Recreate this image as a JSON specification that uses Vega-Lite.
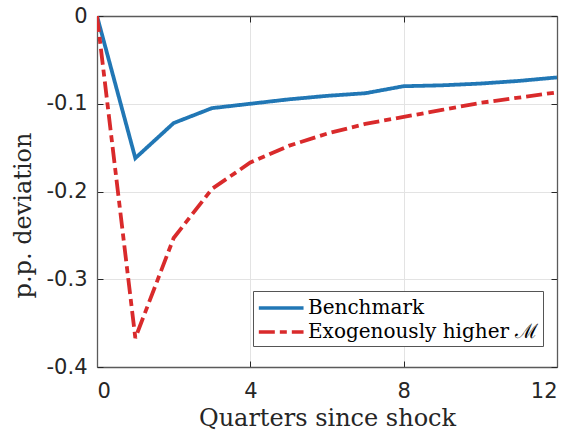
{
  "$schema": "https://vega.github.io/schema/vega-lite/v6.json",
  "width": 460,
  "height": 351,
  "autosize": {"type": "none"},
  "padding": {"left": 97, "top": 16, "right": 17, "bottom": 69},
  "background": "white",
  "config": {
    "view": {"stroke": null},
    "axis": {
      "labelFont": "DejaVu Sans",
      "labelFontSize": 21,
      "labelColor": "#262626",
      "titleFont": "DejaVu Serif",
      "titleFontWeight": "normal",
      "titleFontSize": 24,
      "titleColor": "#262626",
      "domainColor": "#5a5a5a",
      "domainWidth": 1.3,
      "tickColor": "#262626",
      "tickSize": -6,
      "tickWidth": 1,
      "gridColor": "#e3e3e3",
      "gridWidth": 1
    },
    "legend": {
      "orient": "none",
      "legendX": 156,
      "legendY": 275,
      "padding": 4,
      "strokeColor": "#555555",
      "fillColor": "white",
      "symbolType": "M-1,0H3",
      "symbolSize": 500,
      "symbolStrokeWidth": 3.5,
      "labelFont": "DejaVu Serif",
      "labelFontSize": 20,
      "labelColor": "black",
      "labelOffset": 25,
      "rowPadding": 1,
      "labelLimit": 400
    }
  },
  "data": {
    "values": [
      {"q": 0, "v": 0, "s": "Benchmark"},
      {"q": 1, "v": -0.162, "s": "Benchmark"},
      {"q": 2, "v": -0.122, "s": "Benchmark"},
      {"q": 3, "v": -0.105, "s": "Benchmark"},
      {"q": 4, "v": -0.100, "s": "Benchmark"},
      {"q": 5, "v": -0.095, "s": "Benchmark"},
      {"q": 6, "v": -0.091, "s": "Benchmark"},
      {"q": 7, "v": -0.088, "s": "Benchmark"},
      {"q": 8, "v": -0.080, "s": "Benchmark"},
      {"q": 9, "v": -0.079, "s": "Benchmark"},
      {"q": 10, "v": -0.077, "s": "Benchmark"},
      {"q": 11, "v": -0.074, "s": "Benchmark"},
      {"q": 12, "v": -0.070, "s": "Benchmark"},
      {"q": 0, "v": 0, "s": "Exogenously higher ℳ"},
      {"q": 1, "v": -0.367, "s": "Exogenously higher ℳ"},
      {"q": 2, "v": -0.253, "s": "Exogenously higher ℳ"},
      {"q": 3, "v": -0.197, "s": "Exogenously higher ℳ"},
      {"q": 4, "v": -0.167, "s": "Exogenously higher ℳ"},
      {"q": 5, "v": -0.148, "s": "Exogenously higher ℳ"},
      {"q": 6, "v": -0.134, "s": "Exogenously higher ℳ"},
      {"q": 7, "v": -0.123, "s": "Exogenously higher ℳ"},
      {"q": 8, "v": -0.115, "s": "Exogenously higher ℳ"},
      {"q": 9, "v": -0.107, "s": "Exogenously higher ℳ"},
      {"q": 10, "v": -0.099, "s": "Exogenously higher ℳ"},
      {"q": 11, "v": -0.093, "s": "Exogenously higher ℳ"},
      {"q": 12, "v": -0.087, "s": "Exogenously higher ℳ"}
    ]
  },
  "layer": [
    {
      "mark": {"type": "line", "strokeWidth": 3.8, "clip": true},
      "encoding": {
        "x": {
          "field": "q", "type": "quantitative",
          "scale": {"domain": [0, 12], "nice": false, "zero": false},
          "axis": {"orient": "bottom", "values": [0, 4, 8, 12], "title": "Quarters since shock", "labelPadding": 19,
                   "titleBaseline": "alphabetic", "titleY": 58, "titleAlign": "center"}
        },
        "y": {
          "field": "v", "type": "quantitative",
          "scale": {"domain": [-0.4, 0], "nice": false, "zero": false},
          "axis": {"orient": "left", "values": [-0.4, -0.3, -0.2, -0.1, 0], "title": "p.p. deviation", "labelPadding": 16,
                   "titleBaseline": "alphabetic", "titleX": -67, "titleY": 199, "titleAlign": "center", "titleAngle": -90,
                   "labelExpr": "datum.value == 0 ? '0' : replace(format(datum.value, '.1f'), '−', '-')"}
        },
        "color": {
          "field": "s", "type": "nominal",
          "scale": {"domain": ["Benchmark", "Exogenously higher ℳ"], "range": ["#2177b5", "#d92a2b"]},
          "legend": {"title": null}
        },
        "strokeDash": {
          "field": "s", "type": "nominal",
          "scale": {"domain": ["Benchmark", "Exogenously higher ℳ"], "range": [[1, 0], [16, 5, 7, 5]]},
          "legend": {"title": null}
        }
      }
    },
    {
      "mark": {"type": "line", "opacity": 0},
      "encoding": {
        "x": {
          "field": "q", "type": "quantitative",
          "axis": {"orient": "top", "values": [0, 4, 8, 12], "labels": false, "title": null, "grid": false}
        },
        "y": {
          "field": "v", "type": "quantitative",
          "axis": {"orient": "right", "values": [-0.4, -0.3, -0.2, -0.1, 0], "labels": false, "title": null, "grid": false}
        }
      }
    }
  ],
  "resolve": {"axis": {"x": "independent", "y": "independent"}}
}
